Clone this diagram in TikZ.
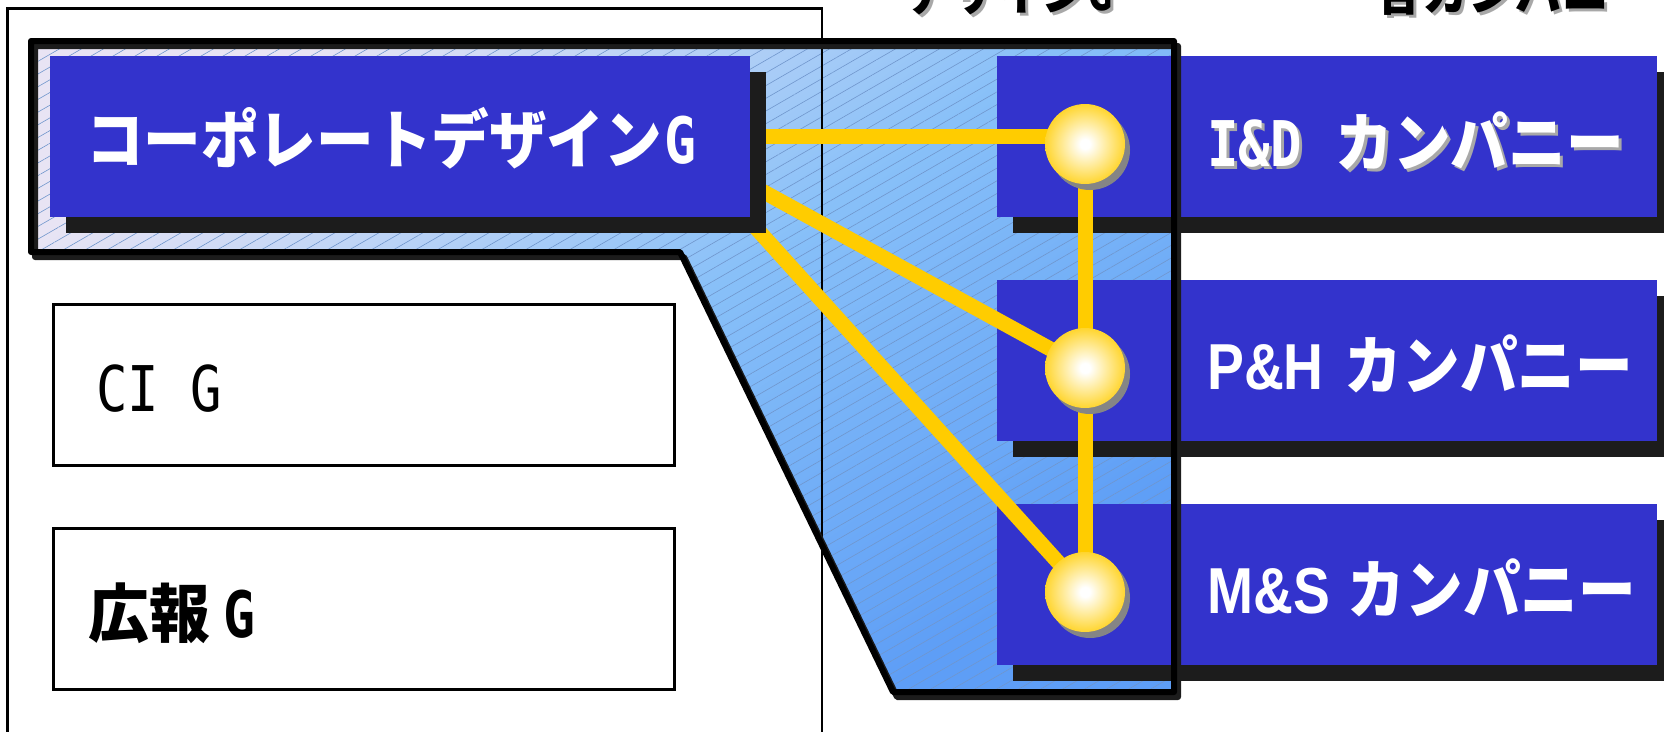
\documentclass[tikz,border=0pt]{standalone}
\usepackage{fontspec}
\setmainfont{Liberation Sans}
\newfontfamily\jpc{Noto Sans CJK JP}[FakeStretch=0.9]
\newfontfamily\jpw{Noto Sans CJK JP}[FakeStretch=0.95]
\newfontfamily\latc{Liberation Sans}[FakeStretch=0.85]
\newfontfamily\monoc{DejaVu Sans Mono}[FakeStretch=0.83]
\usetikzlibrary{shadows,patterns.meta,calc}
\definecolor{boxblue}{HTML}{3333CC}
\definecolor{shadowc}{HTML}{1C1C1C}
\definecolor{gold}{HTML}{FFCC00}
\definecolor{ballshadow}{HTML}{858585}
\definecolor{paleL}{HTML}{E8E4F4}
\definecolor{midB}{HTML}{88C0F8}
\definecolor{deepB}{HTML}{5E9EF6}
\definecolor{hatchc}{HTML}{7096CC}
\definecolor{txtshadow}{HTML}{A8A8A8}
\pgfdeclareradialshading{goldball}{\pgfpoint{0bp}{0bp}}{color(0bp)=(white); color(3bp)=(white); color(30bp)=(gold); color(50bp)=(gold)}
\begin{document}
\begin{tikzpicture}[x=1pt,y=-1pt,
  bluebox/.style={fill=boxblue, draw=none, inner sep=0pt, minimum width=#1, minimum height=161pt, anchor=north west,
    drop shadow={shadow xshift=16pt, shadow yshift=-16pt, fill=shadowc, opacity=1}},
  whitebox/.style={fill=white, draw=black, line width=2.5pt, inner sep=0pt, minimum width=621pt, minimum height=161pt, anchor=north west},
  yline/.style={draw=gold, line width=15pt},
  ball/.style={circle, minimum size=80pt, inner sep=0pt, shade, shading=goldball,
    drop shadow={shadow xshift=5pt, shadow yshift=-6pt, fill=ballshadow, opacity=1}},
  label/.style={anchor=west, inner sep=0pt, font=\bfseries},
  frameline/.style={draw=black, line width=2.5pt}]
\useasboundingbox (0,0) rectangle (1664,731);
\clip (0,0) rectangle (1664,731);

% top (cut) titles
\node[anchor=base west, inner sep=0pt, text=txtshadow, font=\bfseries] (tt1s) at (907,13) {\jpc\fontsize{51}{51}\selectfont デザイン{\monoc G}};
\node[anchor=base west, inner sep=0pt, font=\bfseries] (tt1) at (904,10) {\jpc\fontsize{51}{51}\selectfont デザイン{\monoc G}};
\node[anchor=base west, inner sep=0pt, text=txtshadow, font=\bfseries] (tt2s) at (1378,13) {\jpc\fontsize{52}{52}\selectfont 各カンパニー};
\node[anchor=base west, inner sep=0pt, font=\bfseries] (tt2) at (1375,10) {\jpc\fontsize{52}{52}\selectfont 各カンパニー};

% hatched region fill
\shade[top color=paleL, bottom color=deepB, middle color=midB, shading angle=35]
  (31,41) -- (1174,41) -- (1174,692) -- (893,692) -- (680,252) -- (31,252) -- cycle;
\fill[pattern={Lines[angle=30,distance=11pt,line width=0.6pt]}, pattern color=hatchc]
  (31,41) -- (1174,41) -- (1174,692) -- (893,692) -- (680,252) -- (31,252) -- cycle;

% outer frame (open at bottom)
\draw[frameline] (7.5,760) -- (7.5,8.5) -- (822,8.5) -- (822,760);

% left white boxes
\node[whitebox] (ci) at (52,303) {};
\node[whitebox] (pr) at (52,527) {};
\node[label, font=\mdseries] (tci) at ($(ci.west)+(44,4)$) {\monoc\fontsize{63}{63}\selectfont CI G};
\node[label] (tpr) at ($(pr.west)+(36,4)$) {\jpw\fontsize{64}{64}\selectfont 広報\hspace{14pt}{\monoc G}};

% right company boxes
\node[bluebox=660pt] (r1) at (997,56) {};
\node[bluebox=660pt] (r2) at (997,280) {};
\node[bluebox=660pt] (r3) at (997,504) {};

% connector geometry
\coordinate (k1) at (1085,144);
\coordinate (k2) at (1085,368);
\coordinate (k3) at (1085,592);
\coordinate (sA) at (700,136);
\coordinate (sB) at (700,157);
\coordinate (sC) at (700,166);
\draw[yline] (sA) -- (sA -| k1);
\draw[yline] (sB) -- (k2);
\draw[yline] (sC) -- (k3);
\draw[yline] (k1) -- (k3);

% main box
\node[bluebox=700pt] (b1) at (50,56) {};
\node[label, text=white] (tb1) at ($(b1.west)+(36,2)$) {\jpc\fontsize{64}{64}\selectfont コーポレートデザイン\hspace{2pt}{\monoc G}};

% region border with shadow
\draw[shadowc, line width=6pt, line join=round]
  (35,46) -- (1178,46) -- (1178,697) -- (897,697) -- (684,257) -- (35,257) -- cycle;
\draw[black, line width=6pt, line join=round]
  (31,41) -- (1174,41) -- (1174,692) -- (893,692) -- (680,252) -- (31,252) -- cycle;

% balls
\node[ball] (c1) at (k1) {};
\node[ball] (c2) at (k2) {};
\node[ball] (c3) at (k3) {};

% company labels
\node[label, text=txtshadow] (tr1s) at ($(r1.west)+(213,7)$) {{\monoc\fontsize{63}{63}\selectfont I\&D}\hspace{34pt}{\jpc\fontsize{64}{64}\selectfont カンパニー}};
\node[label, text=white] (tr1) at ($(r1.west)+(210,4)$) {{\monoc\fontsize{63}{63}\selectfont I\&D}\hspace{34pt}{\jpc\fontsize{64}{64}\selectfont カンパニー}};
\node[label, text=white] (tr2) at ($(r2.west)+(210,3)$) {{\latc\fontsize{65}{65}\selectfont P\&H}\hspace{21pt}{\jpc\fontsize{64}{64}\selectfont カンパニー}};
\node[label, text=white] (tr3) at ($(r3.west)+(210,3)$) {{\latc\fontsize{65}{65}\selectfont M\&S}\hspace{18pt}{\jpc\fontsize{64}{64}\selectfont カンパニー}};
\end{tikzpicture}
\end{document}
